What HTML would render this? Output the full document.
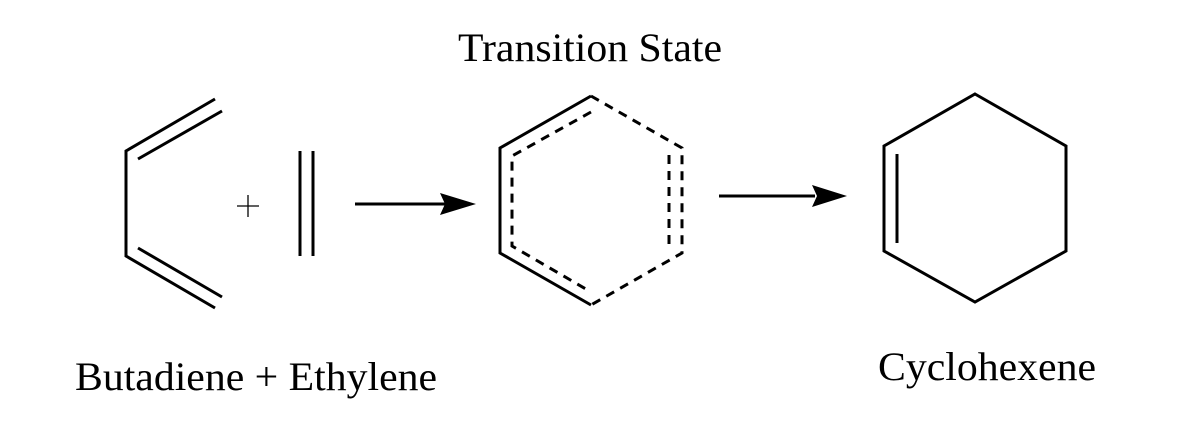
<!DOCTYPE html>
<html><head><style>html,body{margin:0;padding:0;background:#fff;}svg{display:block}</style></head>
<body>
<svg width="1199" height="441" viewBox="0 0 1199 441" xmlns="http://www.w3.org/2000/svg">
<g stroke="#000" stroke-width="3" fill="none" stroke-linecap="butt" stroke-linejoin="miter">
<!-- butadiene -->
<polyline points="215,99 126,151 126,256 215,308"/>
<line x1="138" y1="159" x2="222" y2="111"/>
<line x1="138" y1="248" x2="222" y2="297"/>
<!-- ethylene -->
<line x1="300" y1="151" x2="300" y2="256"/>
<line x1="313" y1="151" x2="313" y2="256"/>
<!-- arrow 1 -->
<line x1="355" y1="204" x2="445" y2="204"/>
<!-- TS -->
<polyline points="591,96 500,148 500,253 591,305"/>
<polyline points="591,96 682,148 682,253 591,305" stroke-dasharray="9,7"/>
<polyline points="591,112 512,156 512,246 591,292" stroke-dasharray="9,7"/>
<line x1="669" y1="155" x2="669" y2="246" stroke-dasharray="9,7"/>
<!-- arrow 2 -->
<line x1="719" y1="196" x2="815" y2="196"/>
<!-- cyclohexene -->
<polygon points="975,94 1066,146 1066,251 975,302 884,251 884,146"/>
<line x1="897" y1="154" x2="897" y2="243"/>
</g>
<polygon points="476,204 440,193 445,204 440,215" fill="#000"/>
<polygon points="847,196 812,185 817,196 812,207" fill="#000"/>
<g stroke="#000" stroke-width="1.3">
<line x1="237" y1="206" x2="259" y2="206"/>
<line x1="248" y1="195" x2="248" y2="217"/>
</g>
<g font-family="'Liberation Serif', serif" font-size="40" fill="#000">
<text x="458" y="61" textLength="264" lengthAdjust="spacingAndGlyphs">Transition State</text>
<text x="75" y="390" textLength="362" lengthAdjust="spacingAndGlyphs">Butadiene + Ethylene</text>
<text x="878" y="380" textLength="218" lengthAdjust="spacingAndGlyphs">Cyclohexene</text>
</g>
</svg>
</body></html>
